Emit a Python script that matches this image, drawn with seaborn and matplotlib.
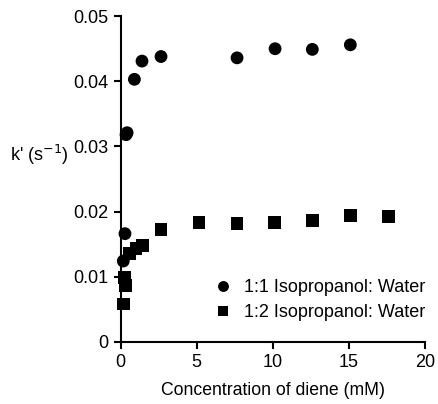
import matplotlib
matplotlib.use("Agg")
import matplotlib.pyplot as plt
import seaborn as sns
import pandas as pd

# 1:1 isopropanol : water
conc_11 = [0.17, 0.28, 0.35, 0.42, 0.9, 1.4, 2.65, 7.65, 10.15, 12.6, 15.1]
k_11 = [0.0124, 0.0166, 0.0318, 0.0321, 0.0403, 0.0431, 0.0438, 0.0436, 0.0450, 0.0449, 0.0456]

# 1:2 isopropanol : water
conc_12 = [0.17, 0.25, 0.3, 0.6, 1.0, 1.45, 2.65, 5.15, 7.65, 10.1, 12.6, 15.1, 17.6]
k_12 = [0.0058, 0.0099, 0.0087, 0.0135, 0.0143, 0.0148, 0.0172, 0.0183, 0.0182, 0.0183, 0.0186, 0.0194, 0.0192]

labels = ["1:1 Isopropanol: Water", "1:2 Isopropanol: Water"]

df = pd.DataFrame({
    "conc": conc_11 + conc_12,
    "k": k_11 + k_12,
    "solvent": [labels[0]] * len(conc_11) + [labels[1]] * len(conc_12),
})

sns.set_style("ticks")
plt.rcParams['font.family'] = ['Liberation Sans', 'DejaVu Sans']
plt.rcParams['text.color'] = 'black'
plt.rcParams['axes.labelcolor'] = 'black'
plt.rcParams['xtick.color'] = 'black'
plt.rcParams['ytick.color'] = 'black'

fig = plt.figure(figsize=(4.38, 4.04), dpi=100)
ax = fig.add_axes([0.2756, 0.154, 0.6944, 0.806])

sns.scatterplot(data=df, x="conc", y="k", style="solvent", markers=["o", "s"],
                color="black", s=85, edgecolor="black", linewidth=0, ax=ax, clip_on=False)

ax.set_xlim(0, 20)
ax.set_ylim(0, 0.05)
ax.set_xticks([0, 5, 10, 15, 20])
ax.set_yticks([0, 0.01, 0.02, 0.03, 0.04, 0.05])
ax.set_yticklabels(["0", "0.01", "0.02", "0.03", "0.04", "0.05"])
ax.tick_params(width=1.5, length=5, labelsize=13, direction="out", colors="black", pad=4)
for side in ["left", "bottom"]:
    ax.spines[side].set_linewidth(1.5)
    ax.spines[side].set_color("black")
sns.despine(ax=ax)

ax.set_xlabel("Concentration of diene (mM)", fontsize=12.7, labelpad=8, color="black")
ax.set_ylabel("")
fig.text(10 / 438, (404 - 155) / 404, "k' (s$^{-1}$)", fontsize=13, va="center", ha="left",
         color="black")

leg = ax.legend(loc="upper right", bbox_to_anchor=(425 / 438, (404 - 279) / 404),
                bbox_transform=fig.transFigure, frameon=False, fontsize=13,
                handletextpad=0.15, borderaxespad=0, borderpad=0, labelspacing=0.45,
                markerscale=0.85)
for t in leg.get_texts():
    t.set_color("black")

fig.savefig("out.png", dpi=100)
